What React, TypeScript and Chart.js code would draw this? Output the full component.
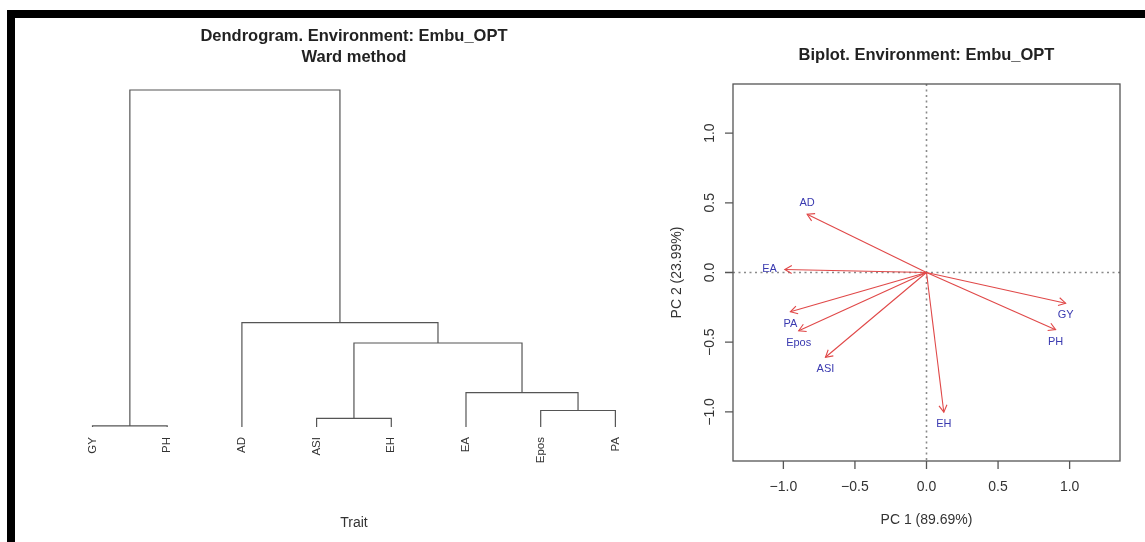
import React, { useEffect, useRef } from 'react';
import { Chart, registerables } from 'chart.js';

Chart.register(...registerables);

const FONT = '"Liberation Sans", Arial, Helvetica, sans-serif';

// ---------- Dendrogram data (hclust-style merge table, Ward method) ----------
const leafOrder = ['GY', 'PH', 'AD', 'ASI', 'EH', 'EA', 'Epos', 'PA'];
// negative = leaf (1-based position in leafOrder), positive = earlier merge (1-based)
const mergeLeft = [-1, -4, -7, -6, 2, -3, 1];
const mergeRight = [-2, -5, -8, 3, 4, 5, 6];
const mergeHeight = [0.02, 0.155, 0.294, 0.614, 1.496, 1.857, 6.0];
const dendroTitle = ['Dendrogram. Environment: Embu_OPT', 'Ward method'];
const dendroXLabel = 'Trait';

// ---------- Biplot data ----------
const traits = ['GY', 'PH', 'AD', 'ASI', 'EH', 'EA', 'Epos', 'PA'];
const pc1 = [0.972, 0.902, -0.834, -0.706, 0.121, -0.99, -0.893, -0.951];
const pc2 = [-0.22, -0.41, 0.418, -0.608, -1.002, 0.022, -0.418, -0.282];
const labelSide = ['below', 'below', 'above', 'below', 'below', 'left', 'below', 'below'];
const axisTicks = [-1.0, -0.5, 0.0, 0.5, 1.0];
const axisLimit = 1.352;
const biplotTitle = 'Biplot. Environment: Embu_OPT';
const pc1Label = 'PC 1 (89.69%)';
const pc2Label = 'PC 2 (23.99%)';

const fmt = (v: number) => v.toFixed(1).replace('-', '\u2212');

function buildDendroSegments() {
  const nodeX: number[] = [];
  const nodeH: number[] = [];
  const xOf = (id: number) => (id < 0 ? -id : nodeX[id - 1]);
  const hOf = (id: number) => (id < 0 ? 0 : nodeH[id - 1]);
  const segs: { x: number; y: number }[][] = [];
  for (let k = 0; k < mergeHeight.length; k++) {
    const l = mergeLeft[k];
    const r = mergeRight[k];
    const h = mergeHeight[k];
    const xl = xOf(l);
    const xr = xOf(r);
    segs.push([
      { x: xl, y: hOf(l) },
      { x: xl, y: h },
      { x: xr, y: h },
      { x: xr, y: hOf(r) },
    ]);
    nodeX.push((xl + xr) / 2);
    nodeH.push(h);
  }
  return segs;
}

export default function App() {
  const leftRef = useRef<HTMLCanvasElement>(null);
  const rightRef = useRef<HTMLCanvasElement>(null);

  useEffect(() => {
    if (!leftRef.current) return;
    const segs = buildDendroSegments();
    const maxH = Math.max(...mergeHeight);
    const n = leafOrder.length;
    const dendroPlugin = {
      id: 'dendroDecor',
      afterDatasetsDraw(chart: any) {
        const ctx = chart.ctx;
        const xs = chart.scales.x;
        const ys = chart.scales.y;
        const area = chart.chartArea;
        const cx = (area.left + area.right) / 2;
        ctx.save();
        // leaf labels
        ctx.fillStyle = '#333';
        ctx.font = `11.5px ${FONT}`;
        ctx.textAlign = 'right';
        ctx.textBaseline = 'middle';
        leafOrder.forEach((lab, i) => {
          const px = xs.getPixelForValue(i + 1);
          const py = ys.getPixelForValue(0) + 10;
          ctx.save();
          ctx.translate(px, py);
          ctx.rotate(-Math.PI / 2);
          ctx.fillText(lab, 0, 0);
          ctx.restore();
        });
        // title
        ctx.fillStyle = '#222';
        ctx.font = `bold 16.5px ${FONT}`;
        ctx.textAlign = 'center';
        ctx.fillText(dendroTitle[0], cx, 36);
        ctx.fillText(dendroTitle[1], cx, 57);
        // x label
        ctx.fillStyle = '#333';
        ctx.font = `14px ${FONT}`;
        ctx.fillText(dendroXLabel, cx, 523);
        ctx.restore();
      },
    };
    const chart = new Chart(leftRef.current, {
      type: 'scatter',
      data: {
        datasets: segs.map((s) => ({
          data: s,
          showLine: true,
          borderColor: '#555',
          borderWidth: 1.2,
          pointRadius: 0,
          fill: false,
          clip: false as any,
        })),
      },
      options: {
        responsive: false,
        animation: false,
        events: [],
        layout: { padding: { left: 71.6, right: 3.7, top: 76.5, bottom: 101.5 } },
        plugins: { legend: { display: false }, tooltip: { enabled: false } },
        scales: {
          x: { type: 'linear', display: false, min: 1 - 0.04 * (n - 1), max: n + 0.04 * (n - 1) },
          y: { type: 'linear', display: false, min: -0.04 * maxH, max: 1.04 * maxH },
        },
      },
      plugins: [dendroPlugin],
    });
    return () => chart.destroy();
  }, []);

  useEffect(() => {
    if (!rightRef.current) return;
    const biplotPlugin = {
      id: 'biplotDecor',
      beforeDatasetsDraw(chart: any) {
        const ctx = chart.ctx;
        const xs = chart.scales.x;
        const ys = chart.scales.y;
        const a = chart.chartArea;
        ctx.save();
        ctx.strokeStyle = '#8a8a8a';
        ctx.lineWidth = 1.6;
        ctx.setLineDash([2, 3.5]);
        const x0 = xs.getPixelForValue(0);
        const y0 = ys.getPixelForValue(0);
        ctx.beginPath();
        ctx.moveTo(x0, a.top);
        ctx.lineTo(x0, a.bottom);
        ctx.moveTo(a.left, y0);
        ctx.lineTo(a.right, y0);
        ctx.stroke();
        ctx.restore();
      },
      afterDatasetsDraw(chart: any) {
        const ctx = chart.ctx;
        const xs = chart.scales.x;
        const ys = chart.scales.y;
        const a = chart.chartArea;
        ctx.save();
        // arrow heads
        ctx.strokeStyle = '#e04848';
        ctx.lineWidth = 1.1;
        chart.data.datasets.forEach((_: any, i: number) => {
          const pts = chart.getDatasetMeta(i).data;
          const p0 = pts[0];
          const p1 = pts[1];
          const ang = Math.atan2(p1.y - p0.y, p1.x - p0.x);
          const len = 8;
          const spread = Math.PI / 6;
          ctx.beginPath();
          ctx.moveTo(p1.x - len * Math.cos(ang - spread), p1.y - len * Math.sin(ang - spread));
          ctx.lineTo(p1.x, p1.y);
          ctx.lineTo(p1.x - len * Math.cos(ang + spread), p1.y - len * Math.sin(ang + spread));
          ctx.stroke();
        });
        // trait labels
        ctx.fillStyle = '#3a3ab0';
        ctx.font = `11px ${FONT}`;
        ctx.textBaseline = 'middle';
        chart.data.datasets.forEach((_: any, i: number) => {
          const p1 = chart.getDatasetMeta(i).data[1];
          const side = labelSide[i];
          if (side === 'left') {
            ctx.textAlign = 'right';
            ctx.fillText(traits[i], p1.x - 8, p1.y);
          } else if (side === 'above') {
            ctx.textAlign = 'center';
            ctx.fillText(traits[i], p1.x, p1.y - 11);
          } else {
            ctx.textAlign = 'center';
            ctx.fillText(traits[i], p1.x, p1.y + 12);
          }
        });
        // box
        ctx.strokeStyle = '#555';
        ctx.lineWidth = 1.3;
        ctx.strokeRect(a.left, a.top, a.right - a.left, a.bottom - a.top);
        // ticks
        const tl = 8;
        ctx.beginPath();
        axisTicks.forEach((v) => {
          const px = xs.getPixelForValue(v);
          ctx.moveTo(px, a.bottom);
          ctx.lineTo(px, a.bottom + tl);
          const py = ys.getPixelForValue(v);
          ctx.moveTo(a.left, py);
          ctx.lineTo(a.left - tl, py);
        });
        ctx.stroke();
        // tick labels
        ctx.fillStyle = '#333';
        ctx.font = `14px ${FONT}`;
        ctx.textAlign = 'center';
        ctx.textBaseline = 'middle';
        axisTicks.forEach((v) => {
          ctx.fillText(fmt(v), xs.getPixelForValue(v), a.bottom + 26);
          ctx.save();
          ctx.translate(a.left - 23, ys.getPixelForValue(v));
          ctx.rotate(-Math.PI / 2);
          ctx.fillText(fmt(v), 0, 0);
          ctx.restore();
        });
        // axis titles
        const cx = (a.left + a.right) / 2;
        const cy = (a.top + a.bottom) / 2;
        ctx.fillText(pc1Label, cx, a.bottom + 59);
        ctx.save();
        ctx.translate(a.left - 56, cy);
        ctx.rotate(-Math.PI / 2);
        ctx.fillText(pc2Label, 0, 0);
        ctx.restore();
        // main title
        ctx.fillStyle = '#222';
        ctx.font = `bold 16.5px ${FONT}`;
        ctx.fillText(biplotTitle, cx, 55);
        ctx.restore();
      },
    };
    const chart = new Chart(rightRef.current, {
      type: 'scatter',
      data: {
        datasets: traits.map((t, i) => ({
          label: t,
          data: [
            { x: 0, y: 0 },
            { x: pc1[i], y: pc2[i] },
          ],
          showLine: true,
          borderColor: '#e04848',
          borderWidth: 1.1,
          pointRadius: 0,
          fill: false,
        })),
      },
      options: {
        responsive: false,
        animation: false,
        events: [],
        layout: { padding: { left: 93, right: 25, top: 84, bottom: 81 } },
        plugins: { legend: { display: false }, tooltip: { enabled: false } },
        scales: {
          x: { type: 'linear', display: false, min: -axisLimit, max: axisLimit },
          y: { type: 'linear', display: false, min: -axisLimit, max: axisLimit },
        },
      },
      plugins: [biplotPlugin],
    });
    return () => chart.destroy();
  }, []);

  return (
    <div style={{ position: 'absolute', left: 0, top: 0, width: 1145, height: 542, background: '#fff', overflow: 'hidden' }}>
      <canvas ref={leftRef} width={640} height={542} style={{ position: 'absolute', left: 0, top: 0, width: 640, height: 542 }} />
      <canvas ref={rightRef} width={505} height={542} style={{ position: 'absolute', left: 640, top: 0, width: 505, height: 542 }} />
      <div
        style={{
          position: 'absolute',
          left: 7,
          top: 10,
          width: 1138,
          height: 532,
          borderTop: '8px solid #000',
          borderLeft: '8px solid #000',
          boxSizing: 'border-box',
          pointerEvents: 'none',
        }}
      />
    </div>
  );
}
